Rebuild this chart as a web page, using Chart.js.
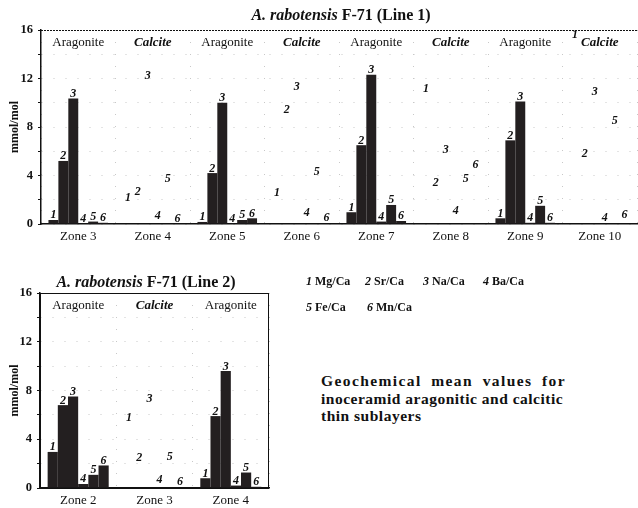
<!DOCTYPE html>
<html>
<head>
<meta charset="utf-8">
<script src="https://cdn.jsdelivr.net/npm/chart.js@4/dist/chart.umd.min.js"></script>
<style>
  body { margin: 0; background: #fff; width: 638px; height: 508px; overflow: hidden; position: relative; font-family: "Liberation Serif", serif; }
  canvas { position: absolute; }
  #c1 { left: 0; top: 0; }
  #c2 { left: 0; top: 260px; }
  .title { position: absolute; font-weight: bold; font-size: 16px; white-space: nowrap; transform: translate(-50%, -50%); color: #111; }
  .legend { position: absolute; font-weight: bold; font-size: 12px; white-space: nowrap; color: #111; }
  .cap { position: absolute; left: 321px; width: 245px; font-weight: bold; font-size: 15.5px; line-height: 17.5px; letter-spacing: 0.5px; white-space: nowrap; color: #111; }
  .cap.spread { text-align: justify; text-align-last: justify; white-space: normal; letter-spacing: 1.4px; }
</style>
</head>
<body>
<canvas id="c1" width="638" height="250"></canvas>
<canvas id="c2" width="290" height="248"></canvas>
<div class="title" style="left:341px; top:15px;"><i>A. rabotensis</i> F-71 (Line 1)</div>
<div class="title" style="left:146px; top:282px;"><i>A. rabotensis</i> F-71 (Line 2)</div>
<div class="legend" style="left:306px; top:274px;"><i>1</i> Mg/Ca</div>
<div class="legend" style="left:365px; top:274px;"><i>2</i> Sr/Ca</div>
<div class="legend" style="left:423px; top:274px;"><i>3</i> Na/Ca</div>
<div class="legend" style="left:483px; top:274px;"><i>4</i> Ba/Ca</div>
<div class="legend" style="left:306px; top:300px;"><i>5</i> Fe/Ca</div>
<div class="legend" style="left:367px; top:300px;"><i>6</i> Mn/Ca</div>
<div class="cap spread" style="top:372px;">Geochemical mean values for</div>
<div class="cap" style="top:389.5px;">inoceramid aragonitic and calcitic</div>
<div class="cap" style="top:407px;">thin sublayers</div>
<script>
// Line 1
const zones1 = ['Zone 3', 'Zone 4', 'Zone 5', 'Zone 6', 'Zone 7', 'Zone 8', 'Zone 9', 'Zone 10'];
const layers1 = ['Aragonite', 'Calcite', 'Aragonite', 'Calcite', 'Aragonite', 'Calcite', 'Aragonite', 'Calcite'];
const mg1 = [0.33, 1.8, 0.17, 2.2, 0.97, 10.8, 0.47, 15.2];
const sr1 = [5.2, 2.3, 4.2, 9.0, 6.5, 3.0, 6.9, 5.4];
const na1 = [10.35, 11.8, 10.0, 10.9, 12.3, 5.7, 10.1, 10.5];
const ba1 = [0.05, 0.3, 0.05, 0.5, 0.2, 0.7, 0.1, 0.15];
const fe1 = [0.2, 3.3, 0.33, 3.9, 1.57, 3.3, 1.5, 8.1];
const mn1 = [0.1, 0.05, 0.47, 0.1, 0.25, 4.5, 0.1, 0.4];

// Line 2
const zones2 = ['Zone 2', 'Zone 3', 'Zone 4'];
const layers2 = ['Aragonite', 'Calcite', 'Aragonite'];
const mg2 = [2.96, 5.4, 0.8];
const sr2 = [6.8, 2.1, 5.9];
const na2 = [7.5, 6.9, 9.6];
const ba2 = [0.33, 0.3, 0.2];
const fe2 = [1.08, 2.2, 1.27];
const mn2 = [1.85, 0.15, 0.1];

const yTicks = [0, 4, 8, 12, 16];
const serif = '"Liberation Serif", serif';
const barColor = '#231f20';

function makeDatasets(series, layers) {
  return series.map((vals, i) => ({
    label: String(i + 1),
    data: vals,
    backgroundColor: layers.map(l => l === 'Aragonite' ? barColor : 'rgba(0,0,0,0)'),
    borderWidth: 0,
    categoryPercentage: 0.8,
    barPercentage: 1.0,
  }));
}

// draws the layer names, the numbers on the bars, the y title and the frame
const overlay = {
  id: 'overlay',
  afterDraw(chart, args, opts) {
    const ctx = chart.ctx;
    const area = chart.chartArea;
    const xs = chart.scales.x;
    ctx.save();
    // layer names
    ctx.textAlign = 'center';
    ctx.textBaseline = 'middle';
    ctx.fillStyle = '#111';
    opts.layers.forEach((l, j) => {
      ctx.font = l === 'Calcite' ? 'italic bold 13px ' + serif : '13px ' + serif;
      ctx.fillText(l, xs.getPixelForValue(j), area.top + 13);
    });
    // numbers above bars
    ctx.font = 'italic bold 12px ' + serif;
    ctx.textBaseline = 'alphabetic';
    chart.data.datasets.forEach((ds, i) => {
      chart.getDatasetMeta(i).data.forEach(bar => {
        ctx.fillText(ds.label, bar.x, bar.y - 1.5);
      });
    });
    // y title
    ctx.font = 'bold 12px ' + serif;
    ctx.textBaseline = 'middle';
    ctx.translate(15, (area.top + area.bottom) / 2);
    ctx.rotate(-Math.PI / 2);
    ctx.fillText('mmol/mol', 0, 0);
    ctx.restore();
    // frame
    ctx.save();
    ctx.strokeStyle = '#111';
    ctx.lineWidth = 1;
    if (opts.dashedTop) {
      ctx.setLineDash([2, 1]);
      ctx.beginPath();
      ctx.moveTo(area.left, area.top + 0.5);
      ctx.lineTo(area.right, area.top + 0.5);
      ctx.stroke();
    } else {
      ctx.strokeRect(area.left + 0.5, area.top + 0.5, area.right - area.left - 1, area.bottom - area.top);
    }
    ctx.restore();
  }
};

function makeOptions(yWidth, xHeight, padding, layers, dashedTop) {
  return {
    responsive: false,
    animation: false,
    layout: { padding: padding },
    plugins: {
      legend: { display: false },
      tooltip: { enabled: false },
      overlay: { layers: layers, dashedTop: dashedTop },
    },
    scales: {
      x: {
        grid: { color: '#c8c8c8', drawTicks: false },
        border: { color: '#111', width: 1.5, dash: [1, 11] },
        ticks: { color: '#111', font: { family: serif, size: 13 }, padding: 5 },
        afterFit(scale) { scale.height = xHeight; },
      },
      y: {
        min: 0,
        max: 16,
        grid: { color: '#c8c8c8', tickColor: '#111', tickLength: 3 },
        border: { color: '#111', width: 1.5, dash: [1, 11] },
        ticks: {
          stepSize: 2,
          color: '#111',
          font: { family: serif, size: 12.5, weight: 'bold' },
          padding: 5,
          callback: v => yTicks.includes(v) ? v : '',
        },
        afterFit(scale) { scale.width = yWidth; },
      },
    },
  };
}

new Chart(document.getElementById('c1'), {
  type: 'bar',
  data: { labels: zones1, datasets: makeDatasets([mg1, sr1, na1, ba1, fe1, mn1], layers1) },
  options: makeOptions(41, 26, { top: 30, right: 1, left: 0, bottom: 0 }, layers1, true),
  plugins: [overlay],
});

new Chart(document.getElementById('c2'), {
  type: 'bar',
  data: { labels: zones2, datasets: makeDatasets([mg2, sr2, na2, ba2, fe2, mn2], layers2) },
  options: makeOptions(40, 20, { top: 33, right: 21, left: 0, bottom: 0 }, layers2, false),
  plugins: [overlay],
});
</script>
</body>
</html>
